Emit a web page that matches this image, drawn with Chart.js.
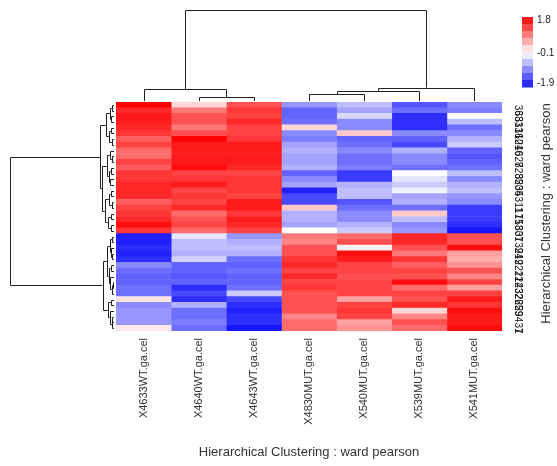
<!DOCTYPE html>
<html>
<head>
<meta charset="utf-8">
<script src="https://cdn.jsdelivr.net/npm/chart.js@4.4.1/dist/chart.umd.min.js"></script>
<style>
  body { margin: 0; background: #fff; }
  #wrap { width: 557px; height: 466px; }
</style>
</head>
<body>
<div id="wrap"><canvas id="heat" width="557" height="466"></canvas></div>
<script>
// --- DATA ---
const colLabels = ['X4633WT.ga.cel', 'X4640WT.ga.cel', 'X4643WT.ga.cel', 'X4830MUT.ga.cel',
                   'X540MUT.ga.cel', 'X539MUT.ga.cel', 'X541MUT.ga.cel'];

// row labels, top to bottom (clustered order)
const rowLabels = ['36', '38', '33', '13', '16', '10', '21', '40', '6', '27', '8', '28', '35', '20', '34',
                   '5', '3', '11', '17', '15', '18', '30', '31',
                   '7', '39', '24', '19', '2', '22', '12', '14', '23', '32', '26', '25', '29', '9', '4', '37', '1'];

// scaled expression per column, top row first
const x4633WT = [1.8, 1.5, 1.6, 1.6, 1.5, 1.4, 1.1, 1.3, 1.0, 1.0, 1.3, 1.1, 1.4, 1.4, 1.5, 1.5, 1.5, 1.1, 1.3, 1.4, 1.5, 1.7, 1.4,
                 -1.8, -1.8, -1.7, -1.8, -1.7, -1.0, -1.2, -1.3, -1.3, -1.2, -1.2, 0.1, -1.0, -0.9, -0.9, -0.9, 0.05];
const x4640WT = [0.2, 0.9, 1.2, 1.2, 0.9, 1.2, 1.8, 1.6, 1.6, 1.6, 1.6, 1.7, 1.3, 1.4, 1.6, 1.3, 1.4, 1.3, 1.5, 1.0, 1.2, 1.3, 1.0,
                 -0.3, -0.6, -0.6, -0.7, -0.45, -1.3, -1.3, -1.4, -1.3, -1.7, -1.5, -1.7, -0.7, -1.2, -1.2, -1.1, -1.2];
const x4643WT = [1.2, 1.4, 1.3, 1.5, 1.3, 1.3, 1.4, 1.6, 1.6, 1.6, 1.6, 1.5, 1.3, 1.4, 1.4, 1.4, 1.3, 1.6, 1.6, 1.4, 1.6, 1.5, 1.3,
                 -0.9, -0.7, -0.6, -0.7, -1.2, -1.3, -1.2, -1.3, -1.3, -1.2, -0.5, -1.5, -1.7, -1.8, -1.7, -1.7, -1.9];
const x4830MUT = [-0.9, -1.3, -1.3, -1.2, 0.2, -1.0, -1.1, -0.8, -0.7, -0.8, -0.8, -0.7, -1.3, -1.0, -0.8, -1.8, -1.5, -1.5, 0.3, -0.7, -0.7, -0.8, -0.1,
                  0.9, 0.8, 1.2, 1.2, 1.4, 1.5, 1.3, 1.5, 1.3, 1.4, 1.2, 1.2, 1.2, 1.2, 0.8, 1.0, 1.0];
const x540MUT = [-0.6, -0.8, -0.4, -1.0, -1.0, 0.3, -1.3, -1.2, -1.0, -1.2, -1.2, -1.1, -1.6, -1.6, -0.7, -0.6, -0.6, -1.4, -1.2, -1.0, -1.0, -0.7, -0.5,
                 1.0, 1.2, 0.0, 1.7, 1.6, 1.3, 1.3, 1.2, 1.3, 1.3, 1.3, 0.6, 1.3, 1.4, 1.3, 0.6, 0.7];
const x539MUT = [-1.4, -1.2, -1.7, -1.7, -1.7, -1.0, -1.3, -1.5, -0.7, -1.0, -1.0, -1.2, -0.1, -0.3, -0.5, -0.2, -0.8, -0.7, -1.2, 0.3, -0.6, -1.0, -0.9,
                 1.5, 1.5, 1.2, 0.9, 1.4, 1.1, 1.3, 1.2, 1.7, 1.0, 1.3, 1.2, 1.5, 0.2, 0.8, 1.2, 1.0];
const x541MUT = [-1.0, -1.1, -0.1, -0.6, -1.2, -1.0, -0.7, -0.5, -1.3, -1.4, -1.3, -1.2, -0.6, -1.0, -0.7, -0.6, -0.9, -1.0, -1.6, -1.6, -1.6, -1.7, -1.9,
                 1.2, 1.2, 1.7, 0.6, 0.5, 0.7, 1.2, 0.8, 1.3, 0.6, 1.3, 1.6, 1.4, 1.7, 1.6, 1.6, 1.7];
const columns = [x4633WT, x4640WT, x4643WT, x4830MUT, x540MUT, x539MUT, x541MUT];

// colour key ticks
const keyTicks = [1.8, -0.1, -1.9];

// dendrograms: [mergeHeight, left, right], leaves are indexes (height 1 = root)
const colTree = [1.0, [0.13, 0, [0.044, 1, 2]], [0.146, [0.107, [0.074, 3, 4], 5], 6]];
const rowTree = [1.0,
  [0.13,
    [0.08, [0.04, [0.02, 0, 1], [0.03, 2, 3]], [0.05, [0.025, 4, 5], [0.02, 6, 7]]],
    [0.115,
      [0.07, [0.04, 8, [0.02, 9, 10]], [0.05, [0.03, 11, 12], [0.035, 13, 14]]],
      [0.09, [0.05, [0.03, 15, 16], [0.02, 17, 18]], [0.06, [0.03, 19, 20], [0.025, 21, 22]]]]],
  [0.11,
    [0.07, [0.04, [0.02, 23, 24], [0.03, 25, [0.015, 26, 27]]],
           [0.05, [0.03, 28, 29], [0.035, 30, [0.02, [0.01, 31, 32], 33]]]],
    [0.06, [0.03, 34, 35], [0.04, 36, [0.02, [0.015, 37, 38], 39]]]]];

const mainTitle = 'Hierarchical Clustering : ward pearson';

// --- COLOUR SCALE (blue - white - red) ---
const keyMin = -1.9, keyMid = -0.1, keyMax = 1.8;
function cellColor(v) {
    if (v <= keyMid) {
        const t = Math.max(0, (v - keyMin) / (keyMid - keyMin));
        const c = Math.round(20 + t * 235);
        return `rgb(${c},${c},255)`;
    }
    const t = Math.min(1, (v - keyMid) / (keyMax - keyMid));
    const c = Math.round(255 * (1 - t));
    return `rgb(255,${c},${c})`;
}

// --- EXTRAS: dendrograms, colour key, titles ---
const extrasPlugin = {
    id: 'extras',
    afterDraw(chart) {
        const { ctx, chartArea, scales } = chart;
        ctx.save();
        ctx.strokeStyle = '#222';
        ctx.lineWidth = 1;
        const snap = v => Math.round(v) + 0.5;

        // column dendrogram
        const colBase = chartArea.top - 1, colTop = 10;
        function drawCol(node) {
            if (typeof node === 'number') return { p: scales.x.getPixelForValue(node + 0.5), y: colBase };
            const a = drawCol(node[1]), b = drawCol(node[2]);
            const y = colBase - node[0] * (colBase - colTop);
            ctx.beginPath();
            ctx.moveTo(snap(a.p), a.y);
            ctx.lineTo(snap(a.p), snap(y));
            ctx.lineTo(snap(b.p), snap(y));
            ctx.lineTo(snap(b.p), b.y);
            ctx.stroke();
            return { p: (a.p + b.p) / 2, y: y };
        }
        drawCol(colTree);

        // row dendrogram
        const rowBase = chartArea.left - 2, rowLeft = 10;
        function drawRow(node) {
            if (typeof node === 'number') return { p: scales.y.getPixelForValue(node), x: rowBase };
            const a = drawRow(node[1]), b = drawRow(node[2]);
            const x = rowBase - node[0] * (rowBase - rowLeft);
            ctx.beginPath();
            ctx.moveTo(a.x, snap(a.p));
            ctx.lineTo(snap(x), snap(a.p));
            ctx.lineTo(snap(x), snap(b.p));
            ctx.lineTo(b.x, snap(b.p));
            ctx.stroke();
            return { p: (a.p + b.p) / 2, x: x };
        }
        drawRow(rowTree);

        // colour key
        const kx = 522, ky = 17, kw = 11, kh = 70, bands = 10;
        for (let i = 0; i < bands; i++) {
            const v = keyMax - (i + 0.5) * (keyMax - keyMin) / bands;
            ctx.fillStyle = cellColor(v);
            ctx.fillRect(kx, ky + i * kh / bands, kw, kh / bands + 0.5);
        }
        ctx.fillStyle = '#222';
        ctx.font = '10px "Liberation Sans", Arial, sans-serif';
        ctx.textAlign = 'left';
        ctx.textBaseline = 'middle';
        keyTicks.forEach(t => {
            const y = ky + 3.5 + (keyMax - t) / (keyMax - keyMin) * (kh - 7);
            ctx.fillText(t.toFixed(1), kx + 15, y);
        });

        // titles
        ctx.fillStyle = '#333';
        ctx.font = '13px "Liberation Sans", Arial, sans-serif';
        ctx.textAlign = 'center';
        ctx.fillText(mainTitle, (chartArea.left + chartArea.right) / 2, 452);
        ctx.translate(546, (chartArea.top + chartArea.bottom) / 2 - 3);
        ctx.rotate(-Math.PI / 2);
        ctx.fillText(mainTitle, 0, 0);
        ctx.restore();
    }
};

// --- BUILD CHART ---
const datasets = columns.map((vals, c) => ({
    label: colLabels[c],
    data: vals.map(() => [c, c + 1]),
    backgroundColor: vals.map(cellColor),
    borderWidth: 0,
    grouped: false,
    barPercentage: 1,
    categoryPercentage: 1
}));

new Chart(document.getElementById('heat'), {
    type: 'bar',
    data: { labels: rowLabels, datasets: datasets },
    options: {
        indexAxis: 'y',
        responsive: false,
        animation: false,
        devicePixelRatio: 1,
        layout: { padding: { left: 116, top: 102, right: 0, bottom: 0 } },
        plugins: { legend: { display: false }, tooltip: { enabled: false } },
        scales: {
            x: {
                type: 'linear',
                min: 0,
                max: 7,
                grid: { display: false, drawTicks: false },
                border: { display: false },
                afterBuildTicks: axis => { axis.ticks = colLabels.map((l, i) => ({ value: i + 0.5 })); },
                afterFit: axis => { axis.height = 135; },
                ticks: {
                    autoSkip: false,
                    minRotation: 90,
                    maxRotation: 90,
                    padding: 7,
                    color: '#333',
                    font: { family: '"Liberation Sans", Arial, sans-serif', size: 11 },
                    callback: v => colLabels[Math.floor(v)]
                }
            },
            y: {
                position: 'right',
                grid: { display: false, drawTicks: false },
                border: { display: false },
                afterFit: axis => { axis.width = 55; },
                ticks: {
                    autoSkip: false,
                    minRotation: -90,
                    maxRotation: -90,
                    padding: 16,
                    color: '#111',
                    font: { family: '"Liberation Sans", Arial, sans-serif', size: 10 }
                }
            }
        }
    },
    plugins: [extrasPlugin]
});
</script>
</body>
</html>
